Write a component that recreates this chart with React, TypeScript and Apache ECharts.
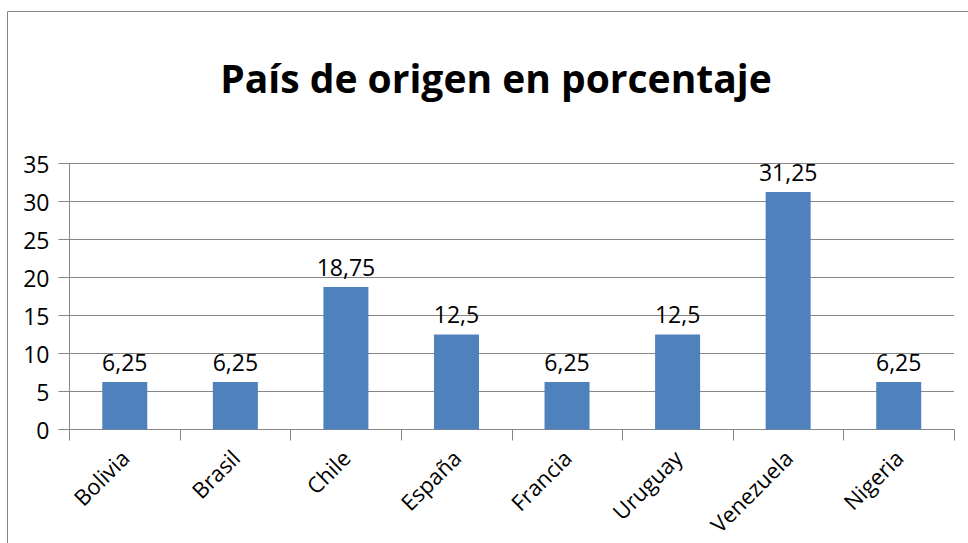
import React, { useEffect, useRef } from "react";
import * as echarts from "echarts";

const titleText = "País de origen en porcentaje";
const categories = ["Bolivia", "Brasil", "Chile", "España", "Francia", "Uruguay", "Venezuela", "Nigeria"];
const values = [6.25, 6.25, 18.75, 12.5, 6.25, 12.5, 31.25, 6.25];
const yTicks = { min: 0, max: 35, interval: 5 };

const FONT = "'Open Sans', 'DejaVu Sans', sans-serif";
const GRAY = "#868686";

export default function App() {
  const ref = useRef<HTMLDivElement>(null);
  useEffect(() => {
    if (!ref.current) return;
    const chart = echarts.init(ref.current, null, { renderer: "svg" });
    chart.setOption({
      animation: false,
      backgroundColor: "#ffffff",
      textStyle: { fontFamily: FONT },
      title: {
        text: titleText,
        left: 491,
        top: 50,
        textAlign: "center",
        textStyle: { fontFamily: FONT, fontWeight: "bold", fontSize: 39, color: "#000000", lineHeight: 44 },
      },
      graphic: [
        {
          type: "rect",
          shape: { x: 7.5, y: 11.5, width: 975, height: 550 },
          style: { fill: "none", stroke: GRAY, lineWidth: 1 },
          silent: true,
        },
      ],
      grid: {
        left: 69.5,
        right: 14,
        top: 163.5,
        bottom: 113.5,
        containLabel: false,
        outerBoundsMode: "none",
      },
      xAxis: {
        type: "category",
        data: categories,
        boundaryGap: true,
        axisLine: { show: true, lineStyle: { color: GRAY, width: 1 } },
        axisTick: { show: true, length: 11, lineStyle: { color: GRAY } },
        axisLabel: { rotate: 45, margin: 24, fontSize: 22, color: "#000000", fontFamily: FONT, interval: 0 },
        splitLine: { show: false },
      },
      yAxis: {
        type: "value",
        min: yTicks.min,
        max: yTicks.max,
        interval: yTicks.interval,
        axisLine: { show: true, lineStyle: { color: GRAY, width: 1 } },
        axisTick: { show: true, length: 11, lineStyle: { color: GRAY } },
        axisLabel: { margin: 20, fontSize: 23, color: "#000000", fontFamily: FONT },
        splitLine: { show: true, lineStyle: { color: GRAY, width: 1 } },
      },
      series: [
        {
          type: "bar",
          data: values,
          barWidth: 45,
          itemStyle: { color: "#4F81BD" },
          label: {
            show: true,
            position: "top",
            distance: 9,
            fontSize: 23,
            color: "#000000",
            fontFamily: FONT,
            formatter: (p: any) => String(p.value).replace(".", ","),
          },
        },
      ],
    });
    return () => chart.dispose();
  }, []);
  return (
    <div
      ref={ref}
      style={{ position: "fixed", left: 0, top: 0, width: 968, height: 543 }}
    />
  );
}
